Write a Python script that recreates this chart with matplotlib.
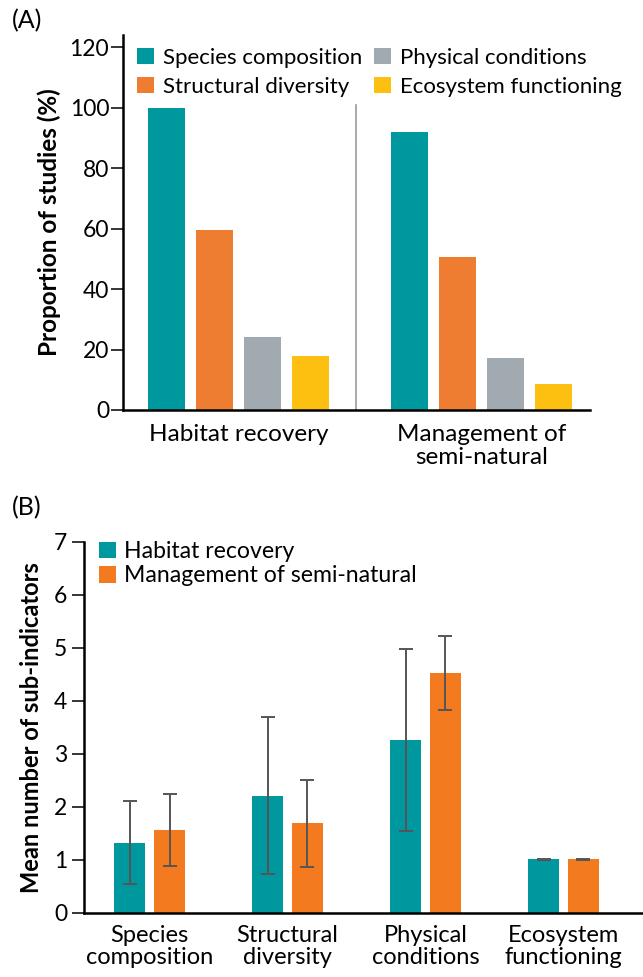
import matplotlib
matplotlib.use("Agg")
import matplotlib.pyplot as plt
import numpy as np

plt.rcParams['font.family'] = ['Lato', 'DejaVu Sans']

# Panel A data
groups_a = ["Habitat recovery", "Management of\nsemi-natural"]
indicators = ["Species composition", "Structural diversity", "Physical conditions", "Ecosystem functioning"]
prop_habitat = [100, 59.5, 24, 18]
prop_mgmt = [92, 50.5, 17.3, 8.7]
yticks_a = [0, 20, 40, 60, 80, 100, 120]

# Panel B data
categories_b = ["Species\ncomposition", "Structural\ndiversity", "Physical\nconditions", "Ecosystem\nfunctioning"]
mean_habitat = [1.32, 2.21, 3.26, 1.01]
sd_habitat = [0.78, 1.48, 1.71, 0.01]
mean_mgmt = [1.56, 1.69, 4.52, 1.01]
sd_mgmt = [0.68, 0.82, 0.70, 0.01]
yticks_b = [0, 1, 2, 3, 4, 5, 6, 7]
series_b = ["Habitat recovery", "Management of semi-natural"]

colors_a = ["#00989F", "#EE7D31", "#A1AAB1", "#FDC010"]
colors_b = ["#00989F", "#F47A20"]

W, H = 643, 977
fig = plt.figure(figsize=(W / 100, H / 100), dpi=100)

def fx(px):
    return px / W

def fy(py):
    return 1 - py / H

# ---------- Panel A ----------
axA = fig.add_axes([fx(123), fy(410), fx(590) - fx(123), fy(35) - fy(410)])
data_a = np.array([prop_habitat, prop_mgmt])
xg = np.arange(len(groups_a))
step = 0.198
w = 0.154
for i, name in enumerate(indicators):
    axA.bar(xg + (i - 1.5) * step, data_a[:, i], width=w, color=colors_a[i], label=name)
axA.plot([0.484, 0.484], [0, 101], color="#999999", lw=1.2)
axA.set_xlim(-0.475, 1.447)
axA.set_ylim(0, 124)
axA.set_yticks(yticks_a)
axA.set_xticks(xg)
axA.set_xticklabels(groups_a, fontsize=17.5, linespacing=1.1)
axA.tick_params(axis='x', length=0, pad=10)
axA.tick_params(axis='y', labelsize=16.5, length=9, width=1.1, direction='out', pad=1)
axA.set_ylabel("Proportion of studies (%)", fontsize=17.5, fontweight='bold', labelpad=6)
for s in ["top", "right"]:
    axA.spines[s].set_visible(False)
for s in ["left", "bottom"]:
    axA.spines[s].set_linewidth(1.8)
axA.legend(ncol=2, loc='upper left', bbox_to_anchor=(fx(137), fy(48)),
           bbox_transform=fig.transFigure, frameon=False,
           fontsize=16, handlelength=0.75, handleheight=0.75, handletextpad=0.4,
           columnspacing=0.55, labelspacing=0.4, borderaxespad=0, borderpad=0)
fig.text(fx(12), fy(21), "(A)", fontsize=18, ha='left', va='center')

# ---------- Panel B ----------
axB = fig.add_axes([fx(84), fy(912.7), 1 - fx(84), fy(541.7) - fy(912.7)])
xb = np.arange(len(categories_b))
wb = 0.225
off = 0.144
ekw = dict(ecolor="#555555", elinewidth=1.4, capsize=5, capthick=1.4)
axB.bar(xb - off, mean_habitat, width=wb, color=colors_b[0], label=series_b[0],
        yerr=sd_habitat, error_kw=ekw)
axB.bar(xb + off, mean_mgmt, width=wb, color=colors_b[1], label=series_b[1],
        yerr=sd_mgmt, error_kw=ekw)
axB.set_xlim(-0.476, 3.577)
axB.set_ylim(0, 7)
axB.set_yticks(yticks_b)
axB.set_xticks(xb)
axB.set_xticklabels(categories_b, fontsize=17, linespacing=1.05)
axB.tick_params(axis='x', length=0, pad=9)
axB.tick_params(axis='y', labelsize=16.5, length=9, width=1.1, direction='out', pad=3)
axB.set_ylabel("Mean number of sub-indicators", fontsize=17, fontweight='bold', labelpad=8)
for s in ["top", "right"]:
    axB.spines[s].set_visible(False)
for s in ["left", "bottom"]:
    axB.spines[s].set_linewidth(1.8)
axB.legend(loc='upper left', bbox_to_anchor=(fx(99), fy(541)),
           bbox_transform=fig.transFigure, frameon=False,
           fontsize=16.6, handlelength=0.72, handleheight=0.72, handletextpad=0.35,
           labelspacing=0.15, borderaxespad=0, borderpad=0)
fig.text(fx(12), fy(508), "(B)", fontsize=18, ha='left', va='center')

fig.savefig("out.png", dpi=100)
